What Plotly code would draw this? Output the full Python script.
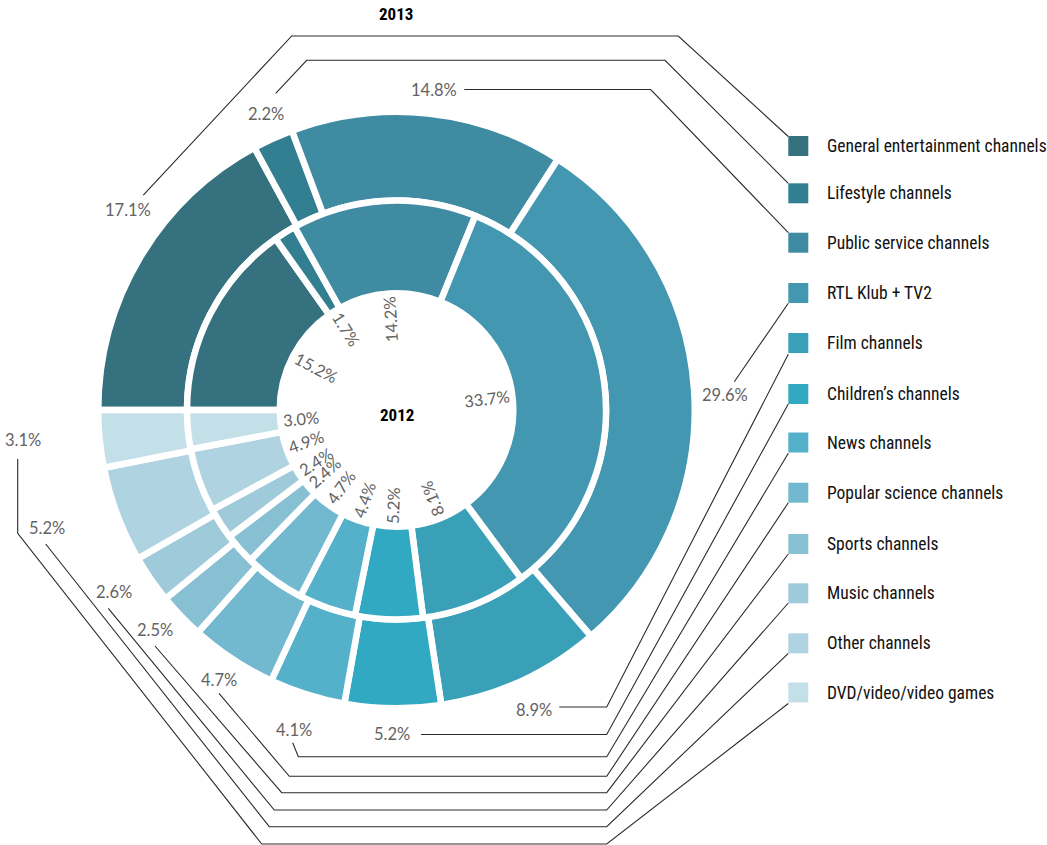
import math
import plotly.graph_objects as go

# ---------------- data ----------------
categories = [
    "General entertainment channels", "Lifestyle channels", "Public service channels",
    "RTL Klub + TV2", "Film channels", "Children’s channels", "News channels",
    "Popular science channels", "Sports channels", "Music channels", "Other channels",
    "DVD/video/video games",
]
values_2013 = [17.1, 2.2, 14.8, 29.6, 8.9, 5.2, 4.1, 4.7, 2.5, 2.6, 5.2, 3.1]
values_2012 = [15.2, 1.7, 14.2, 33.7, 8.1, 5.2, 4.4, 4.7, 2.4, 2.4, 4.9, 3.0]
labels_2013 = ["17.1%", "2.2%", "14.8%", "29.6%", "8.9%", "5.2%", "4.1%", "4.7%", "2.5%", "2.6%", "5.2%", "3.1%"]
labels_2012 = ["15.2%", "1.7%", "14.2%", "33.7%", "8.1%", "5.2%", "4.4%", "4.7%", "2.4%", "2.4%", "4.9%", "3.0%"]
year_outer = "2013"
year_inner = "2012"

# ---------------- style / layout ----------------
colors = ["#36717F", "#337F92", "#3F8BA2", "#4397B0", "#3AA0B8", "#32A9C3",
          "#55B0CA", "#72B9CF", "#88C0D3", "#9ECAD9", "#AFD3E0", "#C3DFE8"]
W, H = 1047, 845
CX, CY = 396.5, 410.0
STROKE = 6.5
R_OUT = 295 + STROKE / 2          # path radius of outer ring
R_MID = 209.5                     # shared boundary of the two rings
R_IN_HOLE = 120 - STROKE / 2      # path radius of inner hole
ROT = 270

COND = "Roboto Condensed, Liberation Sans Narrow, DejaVu Sans Condensed, Roboto, sans-serif"
PCT_FONT = dict(family="Lato, Open Sans, sans-serif", size=16.5, color="#636363")
LEG_FONT = dict(family=COND, size=17.5, color="#111111")
TITLE_FONT = dict(family=COND, size=17, color="#000000", weight="bold")


def px(x):
    return x / W


def py(y):
    return 1 - y / H


def dom(r):
    return dict(x=[px(CX - r), px(CX + r)], y=[py(CY + r), py(CY - r)])


fig = go.Figure()
fig.add_trace(go.Pie(
    values=values_2013, labels=categories, sort=False, direction="clockwise", rotation=ROT,
    hole=R_MID / R_OUT, domain=dom(R_OUT), textinfo="none", showlegend=False,
    marker=dict(colors=colors, line=dict(color="white", width=STROKE)), name=year_outer,
))
fig.add_trace(go.Pie(
    values=values_2012, labels=categories, sort=False, direction="clockwise", rotation=ROT,
    hole=R_IN_HOLE / R_MID, domain=dom(R_MID), textinfo="none", showlegend=False,
    marker=dict(colors=colors, line=dict(color="white", width=STROKE)), name=year_inner,
))

annotations = []
shapes = []

# ---- inner (2012) radial labels inside the hole ----
CHAR_W = {"%": 0.83, ".": 0.23}
total = sum(values_2012)
cum = 0.0
for v, lab in zip(values_2012, labels_2012):
    mid = cum + v / 2
    cum += v
    a = ROT + 360 * mid / total                  # clockwise from 12 o'clock
    ar = math.radians(a)
    t = (a - 90) % 360
    if t > 180:
        t -= 360
    if t > 60:
        t -= 180
    elif t <= -120:
        t += 180
    wtxt = sum(CHAR_W.get(c, 0.58) for c in lab) * PCT_FONT["size"]
    r = 114 - wtxt / 2
    x = CX + r * math.sin(ar)
    y = CY - r * math.cos(ar)
    annotations.append(dict(x=px(x), y=py(y), xref="paper", yref="paper", text=lab,
                            showarrow=False, textangle=t, font=PCT_FONT,
                            xanchor="center", yanchor="middle"))

# ---- outer (2013) labels with leader lines to legend ----
outer_label_pos = [(128, 210), (266, 114), (434, 90), (725, 395), (534, 710), (392, 734),
                   (294, 730), (219, 680), (155, 630), (114, 592), (47, 528), (23, 440)]
leader_paths = [
    [(143.3, 195), (291.7, 36), (678.3, 36), (788.3, 136.5)],
    [(275.7, 93.3), (306.7, 60.3), (665, 60.3), (788.3, 183.3)],
    [(464.3, 89.5), (650.7, 89.5), (788.3, 232.7)],
    [(734.3, 381.7), (788.3, 303.3)],
    [(559.3, 707), (606.7, 707), (788.3, 354.3)],
    [(421, 734.5), (606.7, 734.5), (788.3, 404)],
    [(292.7, 742.7), (298.3, 756.7), (606.7, 756.7), (788.3, 453.3)],
    [(219, 693.3), (289.3, 776.3), (606.7, 776.3), (788.3, 502.7)],
    [(155, 646), (281.7, 792.7), (606.7, 792.7), (788.3, 554)],
    [(108.3, 608.3), (274.3, 810), (606.7, 810), (788.3, 603)],
    [(45.7, 544), (269.3, 826.7), (606.7, 826.7), (788.3, 653.3)],
    [(17.7, 459), (17.7, 533.3), (261.7, 844), (606.7, 844), (788.3, 703.5)],
]
legend_tops = [136, 183.3, 232.7, 283, 333, 384, 432.5, 482.7, 534, 583.3, 633.3, 682.5]
SQ = 20

for lab, (lx, ly) in zip(labels_2013, outer_label_pos):
    annotations.append(dict(x=px(lx), y=py(ly), xref="paper", yref="paper", text=lab,
                            showarrow=False, font=PCT_FONT, xanchor="center", yanchor="middle"))

for pts in leader_paths:
    d = "M " + " L ".join(f"{px(x):.5f},{py(y):.5f}" for x, y in pts)
    shapes.append(dict(type="path", path=d, xref="paper", yref="paper",
                       line=dict(color="#2a2a2a", width=1.1), layer="above"))

for name, col, top in zip(categories, colors, legend_tops):
    shapes.append(dict(type="rect", xref="paper", yref="paper",
                       x0=px(788.3), x1=px(788.3 + SQ), y0=py(top + SQ), y1=py(top),
                       fillcolor=col, line=dict(width=0), layer="above"))
    annotations.append(dict(x=px(825), y=py(top + SQ / 2), xref="paper", yref="paper",
                            text=name, showarrow=False, font=LEG_FONT,
                            xanchor="left", yanchor="middle"))

annotations.append(dict(x=px(396), y=py(13.5), xref="paper", yref="paper", text=year_outer,
                        showarrow=False, font=TITLE_FONT, xanchor="center", yanchor="middle"))
annotations.append(dict(x=px(397), y=py(415), xref="paper", yref="paper", text=year_inner,
                        showarrow=False, font=TITLE_FONT, xanchor="center", yanchor="middle"))

fig.update_layout(
    width=W, height=H, margin=dict(l=0, r=0, t=0, b=0),
    paper_bgcolor="white", plot_bgcolor="white",
    annotations=annotations, shapes=shapes, showlegend=False,
)
fig.write_html("out.html", config={"displayModeBar": False},
               post_script="document.body.style.margin='0px';document.body.style.overflow='hidden';")
